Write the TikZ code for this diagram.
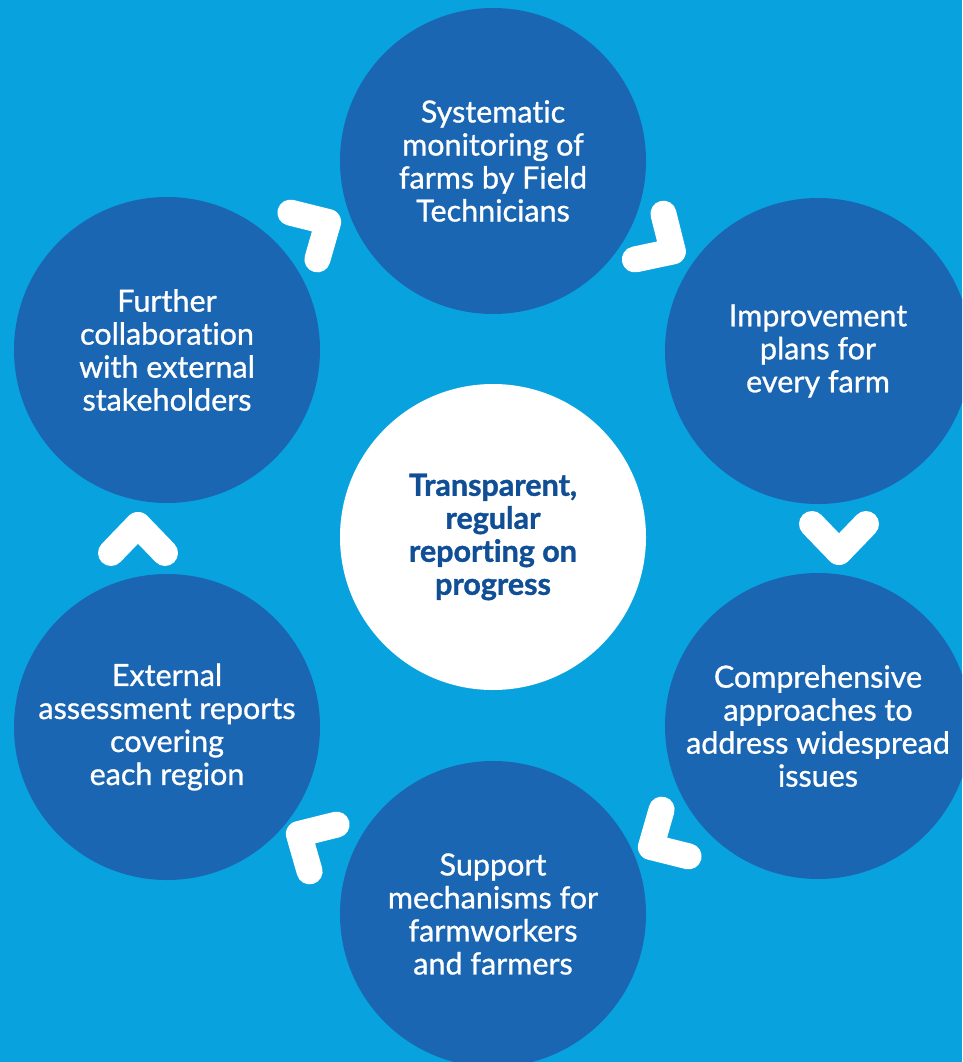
\documentclass[tikz,border=0pt]{standalone}
\usepackage{fontspec}
\setmainfont{Lato}[Ligatures=NoCommon, FakeBold=0.9, BoldFeatures={FakeBold=1.2}]
\usetikzlibrary{calc}
\definecolor{skyblue}{RGB}{8,162,222}
\definecolor{ringblue}{RGB}{27,102,178}
\definecolor{hubtext}{RGB}{16,78,150}

\begin{document}
\begin{tikzpicture}[x=1pt,y=1pt]
	\tikzstyle{every node}+=[inner sep=0pt]
	\tikzstyle{stepcircle}=[circle, fill=ringblue, minimum size=306pt, text=white, align=center, font=\fontsize{30.5}{33}\selectfont]
	\tikzstyle{hubcircle}=[circle, fill=white, minimum size=306pt, text=hubtext, align=center, font=\fontsize{30.5}{33}\selectfont\bfseries]
	\tikzstyle{chevron}=[white, line width=26pt, line cap=round, line join=round]
	\useasboundingbox (0,0) rectangle (962,-1062);
	\clip (0,0) rectangle (962,-1062);
	\fill [skyblue] (0,0) rectangle (962,-1062);
	\node [hubcircle] (hub) at (493,-537) {Transparent,\\regular\\reporting on\\progress};
	\node [stepcircle] (monitor) at (493,-161) {Systematic\\monitoring of\\farms by Field\\Technicians};
	\node [stepcircle] (plans) at (818,-351) {Improvement\\plans for\\every farm};
	\node [stepcircle] (approach) at (818,-726) {Comprehensive\\approaches to\\address widespread\\issues};
	\node [stepcircle] (support) at (493,-914) {Support\\mechanisms for\\farmworkers\\and farmers};
	\node [stepcircle] (assess) at (167,-727) {External\\assessment reports\\covering\\each region};
	\node [stepcircle] (collab) at (167,-350) {Further\\collaboration\\with external\\stakeholders};
	% chevrons between the circles: centre and pointing angle
	\foreach \cx/\cy/\d in {661/-244/-32, 839/-538/-90, 663/-840/-150, 311/-841/150, 138/-539/90, 316/-229/30}
	{
		\begin{scope}[shift={(\cx,\cy)}, rotate=\d]
			\draw [chevron] (-14,27) -- (14,0) -- (-14,-27);
		\end{scope}
	}
\end{tikzpicture}
\end{document}
